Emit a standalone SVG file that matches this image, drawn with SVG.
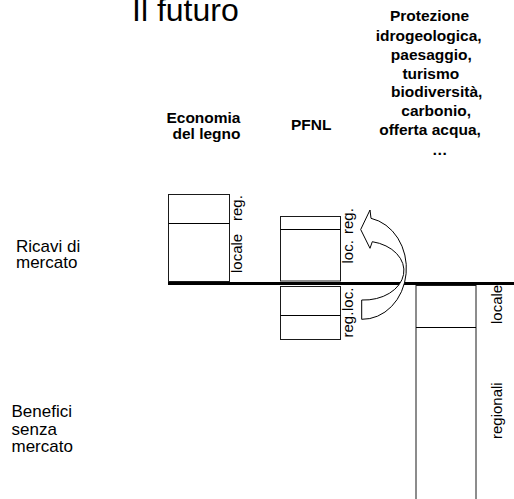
<svg xmlns="http://www.w3.org/2000/svg" width="514" height="499" viewBox="0 0 514 499">
<style>
text{font-family:"Liberation Sans",Arial,sans-serif;fill:#000}
.b{font-weight:bold;font-size:15.5px}
.side{font-size:17px}
.rot{font-size:15px}
.box{fill:#fff;stroke:#1a1a1a;stroke-width:1}
.div{stroke:#000;stroke-width:1}
</style>
<rect width="514" height="499" fill="#fff"/>
<g id="title"><text x="132" y="21" font-size="32">Il futuro</text></g>
<g id="head-legno"><text class="b" text-anchor="end"><tspan x="240.5" y="122.5">Economia</tspan><tspan x="240.5" y="139">del legno</tspan></text></g>
<g id="head-pfnl"><text class="b" x="311.2" y="130" text-anchor="middle">PFNL</text></g>
<g id="head-servizi"><text class="b" text-anchor="middle"><tspan x="429.5" y="21">Protezione</tspan><tspan x="428.7" y="40.5">idrogeologica,</tspan><tspan x="431.3" y="59.5">paesaggio,</tspan><tspan x="430.8" y="78.5">turismo</tspan><tspan x="436.7" y="97.3">biodiversità,</tspan><tspan x="436.2" y="116">carbonio,</tspan><tspan x="430" y="135">offerta acqua,</tspan><tspan x="439.7" y="155">…</tspan></text></g>
<g id="label-ricavi"><text class="side"><tspan x="16" y="251.7">Ricavi di</tspan><tspan x="16" y="268.3">mercato</tspan></text></g>
<g id="label-benefici"><text class="side"><tspan x="11.5" y="417.3">Benefici</tspan><tspan x="11.5" y="435">senza</tspan><tspan x="11.5" y="452.3">mercato</tspan></text></g>
<g id="axis"><line x1="168" y1="283.5" x2="514" y2="283.5" stroke="#000" stroke-width="3"/></g>
<g id="box-legno">
<rect class="box" x="168.5" y="194.5" width="61" height="87"/>
<line class="div" x1="168.5" y1="223.5" x2="229.5" y2="223.5"/>
<text class="rot" transform="translate(242 273) rotate(-90)">locale</text>
<text class="rot" transform="translate(242 221) rotate(-90)">reg.</text>
</g>
<g id="box-pfnl-up">
<rect class="box" x="280.5" y="216.5" width="60" height="64.5"/>
<line class="div" x1="280.5" y1="229.5" x2="340.5" y2="229.5"/>
<text class="rot" transform="translate(353 263.5) rotate(-90)">loc.</text>
<text class="rot" transform="translate(353 234) rotate(-90)">reg.</text>
</g>
<g id="box-pfnl-down">
<rect class="box" x="280.5" y="286.5" width="60" height="53"/>
<line class="div" x1="280.5" y1="315.5" x2="340.5" y2="315.5"/>
<text class="rot" transform="translate(353 311) rotate(-90)">loc.</text>
<text class="rot" transform="translate(353 337.5) rotate(-90)">reg.</text>
</g>
<g id="box-servizi">
<rect class="box" x="416" y="285.5" width="60" height="230"/>
<line class="div" x1="416" y1="327.5" x2="476" y2="327.5"/>
<text class="rot" transform="translate(502 324) rotate(-90)">locale</text>
<text class="rot" transform="translate(502 439) rotate(-90)">regionali</text>
</g>
<g id="connectors">
<path d="M360.7 229.5 L370 210 L371 218.3 A44 51 0 0 1 361.7 319.3 L361.7 300 A40 29.5 0 0 0 372.3 241.7 L370 248.3 Z" fill="#fff" stroke="#000" stroke-width="1"/>
</g>
</svg>
